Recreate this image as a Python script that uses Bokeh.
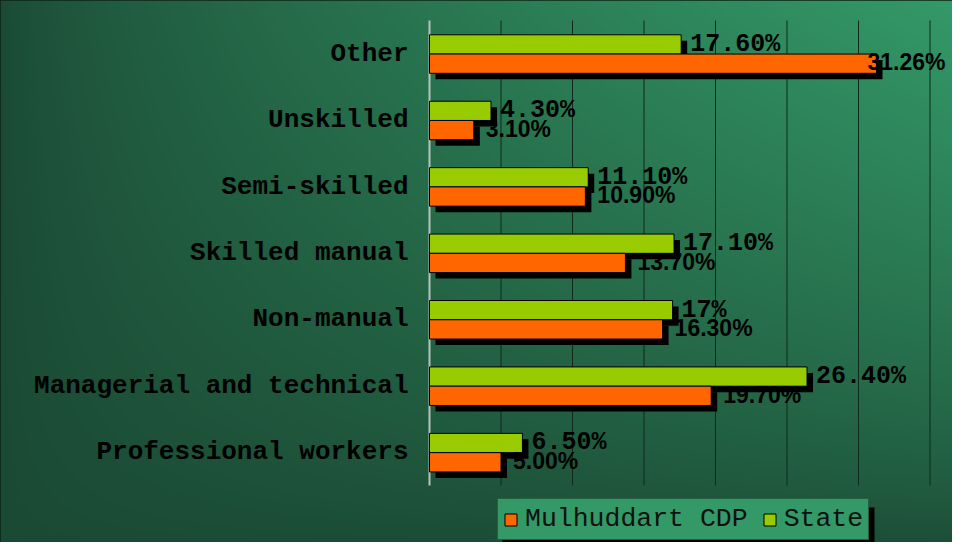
import numpy as np
from bokeh.plotting import figure
from bokeh.models import Range1d, ColumnDataSource, Legend, LegendItem
from bokeh.core.properties import value
from bokeh.transform import dodge
from bokeh.embed import file_html
from bokeh.resources import INLINE

# ---------------- data ----------------
categories = ["Professional workers", "Managerial and technical", "Non-manual",
              "Skilled manual", "Semi-skilled", "Unskilled", "Other"]
mulhuddart = [5.00, 19.70, 16.30, 13.70, 10.90, 3.10, 31.26]
state = [6.50, 26.40, 17.00, 17.10, 11.10, 4.30, 17.60]
mulhuddart_labels = ["5.00%", "19.70%", "16.30%", "13.70%", "10.90%", "3.10%", "31.26%"]
state_labels = ["6.50%", "26.40%", "17%", "17.10%", "11.10%", "4.30%", "17.60%"]
x_ticks = [5, 10, 15, 20, 25, 30, 35]
series_names = ["Mulhuddart CDP", "State"]

# ---------------- layout constants (pixels) ----------------
W, H = 952, 542
PX_PER_PCT = 14.3
PX_PER_CAT = 66.43
ZERO_PX = 429
TOP_PX = 20
n = len(categories)

x_start = -ZERO_PX / PX_PER_PCT
x_end = (W - ZERO_PX) / PX_PER_PCT
y_end = (n - 0.5) + TOP_PX / PX_PER_CAT
y_start = y_end - H / PX_PER_CAT

SHADOW_DX = 6 / PX_PER_PCT
SHADOW_DY = 6 / PX_PER_CAT
G_OFF, O_OFF, BAR_H = 0.14, -0.15, 0.29

GREEN = "#99cc00"
ORANGE = "#ff6600"
MONO = "Liberation Mono"
SANS = "Liberation Sans"

p = figure(width=W, height=H, x_range=Range1d(x_start, x_end),
           y_range=Range1d(y_start, y_end), output_backend="svg",
           toolbar_location=None, x_axis_location=None, y_axis_location=None,
           min_border=0, min_border_left=0, min_border_right=0,
           min_border_top=0, min_border_bottom=0)
p.grid.visible = False
p.outline_line_color = "#0c2416"
p.outline_line_width = 2
p.border_fill_color = "#1b4a34"
p.background_fill_color = "#1b4a34"

# ---------------- gradient background ----------------
gh, gw = H // 2, W // 2
yy, xx = np.mgrid[0:gh, 0:gw]
px = (xx + 0.5) * W / gw + 8
py = (H - (yy + 0.5) * H / gh) + 8
xn = np.clip((px - 9) / 959, 0, 1)
yn = np.clip((py - 9) / 549, 0, 1)
f = (xn * (1 - yn)) ** 0.7
dark = np.array([27, 74, 52], dtype=float)
bright = np.array([52, 153, 104], dtype=float)
rgb = dark + f[..., None] * (bright - dark)
img = np.empty((gh, gw), dtype=np.uint32)
view = img.view(dtype=np.uint8).reshape((gh, gw, 4))
view[..., 0] = rgb[..., 0].astype(np.uint8)
view[..., 1] = rgb[..., 1].astype(np.uint8)
view[..., 2] = rgb[..., 2].astype(np.uint8)
view[..., 3] = 255
p.image_rgba(image=[img], x=x_start, y=y_start, dw=x_end - x_start, dh=y_end - y_start)

# ---------------- grid & axis line ----------------
p.segment(x0=x_ticks, x1=x_ticks, y0=-0.5, y1=n - 0.5, line_color="#0f2a1c", line_width=1)
p.segment(x0=[0], x1=[0], y0=-0.5, y1=n - 0.5, line_color="#b8c2bb", line_width=2)

# ---------------- bars ----------------
est_w = [0.58 * 23 * len(s) for s in mulhuddart_labels]
overflow = [ZERO_PX + v * PX_PER_PCT + 12 + w > W - 6 for v, w in zip(mulhuddart, est_w)]
m_lab_x = [x_end if o else v for v, o in zip(mulhuddart, overflow)]
m_lab_align = ["right" if o else "left" for o in overflow]
m_lab_off = [-7 if o else 12 for o in overflow]

src = ColumnDataSource(dict(cat=categories, y=list(range(n)), m=mulhuddart, s=state,
                            ml=mulhuddart_labels, sl=state_labels,
                            mlx=m_lab_x, mla=m_lab_align, mlo=m_lab_off))

p.hbar(y=dodge("y", G_OFF - SHADOW_DY), left=SHADOW_DX, right=dodge("s", SHADOW_DX),
       height=BAR_H, source=src, fill_color="black", line_color=None)
g = p.hbar(y=dodge("y", G_OFF), left=0, right="s", height=BAR_H, source=src,
           fill_color=GREEN, line_color="black", line_width=1)
p.hbar(y=dodge("y", O_OFF - SHADOW_DY), left=SHADOW_DX, right=dodge("m", SHADOW_DX),
       height=BAR_H, source=src, fill_color="black", line_color=None)
o = p.hbar(y=dodge("y", O_OFF), left=0, right="m", height=BAR_H, source=src,
           fill_color=ORANGE, line_color="black", line_width=1)

# ---------------- texts ----------------
p.text(x=0, y="y", text="cat", source=src, x_offset=-21, text_align="right",
       text_baseline="middle", text_font=value(MONO), text_font_style="bold",
       text_font_size="26px", text_color="black")
p.text(x="s", y=dodge("y", G_OFF), text="sl", source=src, x_offset=9, text_align="left",
       text_baseline="middle", text_font=value(MONO), text_font_style="bold",
       text_font_size="25px", text_color="black")
p.text(x="mlx", y=dodge("y", O_OFF + 0.02), text="ml", source=src, x_offset="mlo",
       text_align="mla", text_baseline="middle", text_font=value(SANS),
       text_font_style="bold", text_font_size="23px", text_color="black")

# ---------------- legend (with drop shadow) ----------------
LEG_L, LEG_R, LEG_T, LEG_B, LEG_SH = 497, 869, 502, 540, 5
p.quad(left=x_start + (LEG_L + LEG_SH) / PX_PER_PCT, right=x_start + (LEG_R + LEG_SH) / PX_PER_PCT,
       top=y_end - (LEG_T + LEG_SH) / PX_PER_CAT, bottom=y_end - (LEG_B + LEG_SH) / PX_PER_CAT,
       fill_color="black", line_color=None)

legend = Legend(items=[LegendItem(label=series_names[0], renderers=[o]),
                       LegendItem(label=series_names[1], renderers=[g])],
                orientation="horizontal", location=(LEG_L, H - LEG_B))
legend.background_fill_color = "#339966"
legend.background_fill_alpha = 1
legend.border_line_color = "#102a1c"
legend.border_line_width = 1
legend.label_text_font = MONO
legend.label_text_font_size = "26.5px"
legend.label_text_color = "#111111"
legend.glyph_width = 15
legend.glyph_height = 15
legend.label_standoff = 7
legend.spacing = 14
legend.padding = 5
legend.margin = 0
legend.label_height = 24
p.add_layout(legend, "center")

open("out.html", "w").write(file_html(p, INLINE))
